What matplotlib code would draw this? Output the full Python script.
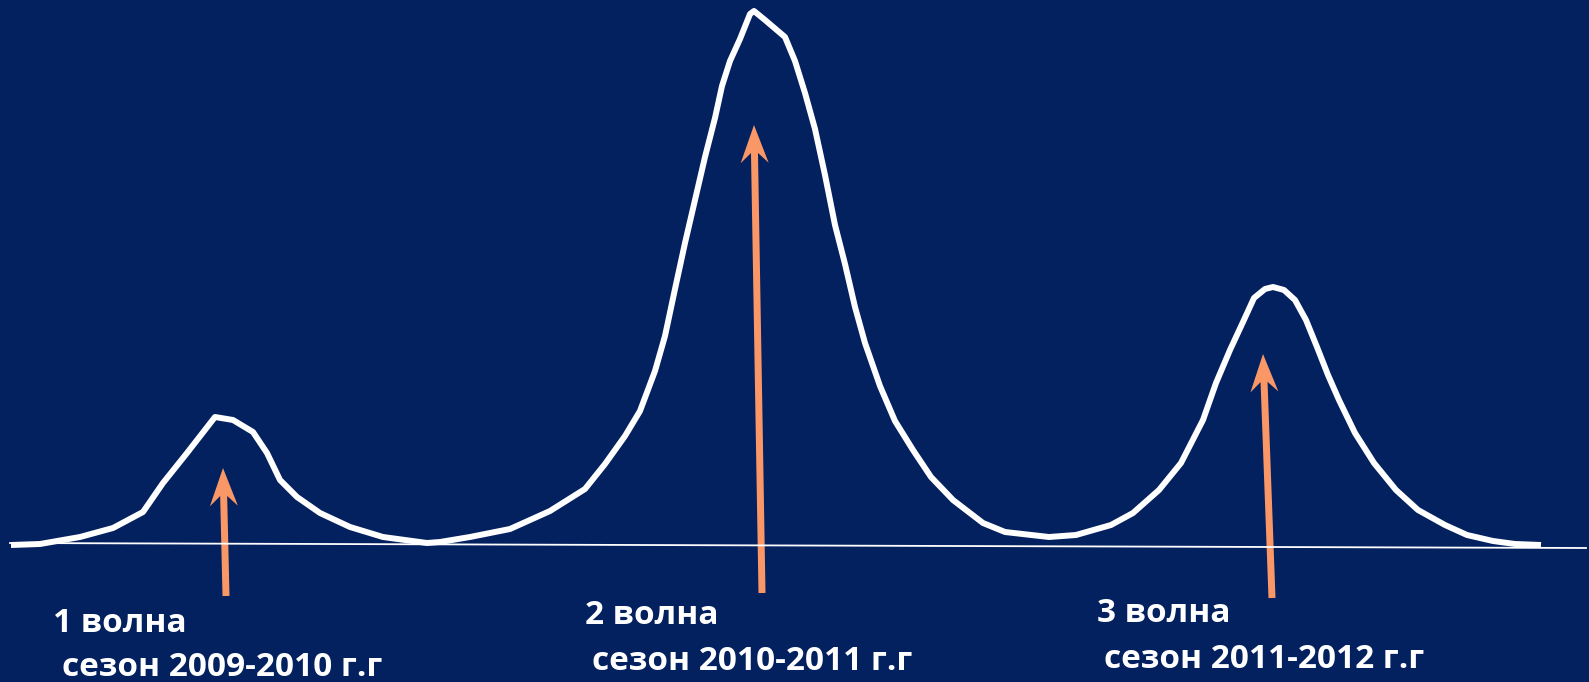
import numpy as np
import matplotlib.pyplot as plt

# epidemic wave outline (x, y in picture pixels, y grows downward)
curve_x = [11, 40, 80, 113, 143, 163, 187, 215, 233, 253, 267, 280, 297, 320, 350,
           383, 427, 440, 470, 510, 550, 585, 605, 625, 640, 655, 665, 675, 685, 695,
           705, 715, 722, 730, 740, 750, 754, 765, 785, 795, 805, 815, 825, 835, 845,
           855, 865, 880, 895, 913, 931, 953, 983, 1005, 1049, 1076, 1111, 1133, 1159,
           1181, 1203, 1216, 1230, 1243, 1254, 1265, 1273, 1284, 1295, 1306, 1317, 1328,
           1339, 1355, 1374, 1396, 1418, 1445, 1467, 1493, 1515, 1541]
curve_y = [545, 544, 537, 528, 512, 483, 453, 417, 420, 432, 453, 480, 497, 513, 527,
           537, 543, 542, 537, 529, 511, 489, 464, 436, 411, 371, 336, 289, 243, 200,
           157, 118, 86, 61, 39, 14, 11, 20, 37, 61, 93, 129, 175, 225, 264,
           307, 343, 386, 421, 450, 477, 500, 523, 532, 537, 535, 525, 513, 490,
           463, 420, 383, 350, 322, 298, 289, 287, 290, 300, 320, 347, 375,
           400, 433, 463, 490, 510, 525, 535, 541, 544, 545]

baseline_x = [10, 1586]
baseline_y = [543, 548]

# arrows: (x_start, y_start, x_tip, y_tip)
arrows = [(226, 596, 223, 468), (762, 593, 754, 125), (1272, 598, 1263, 354)]

wave_labels = ["1 волна", "2 волна", "3 волна"]
season_labels = ["сезон 2009-2010 г.г", "сезон 2010-2011 г.г", "сезон 2011-2012 г.г"]
wave_pos = [(53, 623), (585, 616), (1097, 614)]
season_pos = [(62, 667), (592, 661), (1104, 660)]

bg = "#03205f"
arrow_col = "#f99866"


def arrow_poly(x0, y0, x1, y1, head_len=38, head_half=14, notch=28, shaft_half=3.5):
    tip = np.array([x1, y1], float)
    start = np.array([x0, y0], float)
    d = (start - tip) / np.linalg.norm(start - tip)
    p = np.array([-d[1], d[0]])
    pts = [tip,
           tip + d * head_len + p * head_half,
           tip + d * notch + p * shaft_half,
           start + p * shaft_half,
           start - p * shaft_half,
           tip + d * notch - p * shaft_half,
           tip + d * head_len - p * head_half]
    return np.array(pts)


fig = plt.figure(figsize=(15.89, 6.82), dpi=100, facecolor=bg)
ax = fig.add_axes([0, 0, 1, 1])
ax.set_facecolor(bg)
ax.set_xlim(0, 1589)
ax.set_ylim(682, 0)
ax.axis("off")

ax.plot(baseline_x, baseline_y, color="white", lw=1.3)
ax.plot(curve_x, curve_y, color="white", lw=4.3,
        solid_joinstyle="round", solid_capstyle="butt")

for x0, y0, x1, y1 in arrows:
    poly = arrow_poly(x0, y0, x1, y1)
    ax.fill(poly[:, 0], poly[:, 1], color=arrow_col, lw=0)

for (x, y), t in zip(wave_pos, wave_labels):
    ax.text(x, y, t, color="white", fontsize=24, fontweight="bold",
            family="Open Sans", va="center", ha="left")
for (x, y), t in zip(season_pos, season_labels):
    ax.text(x, y, t, color="white", fontsize=24, fontweight="bold",
            family="Open Sans", va="center", ha="left")

fig.savefig("out.png", dpi=100, facecolor=bg)
